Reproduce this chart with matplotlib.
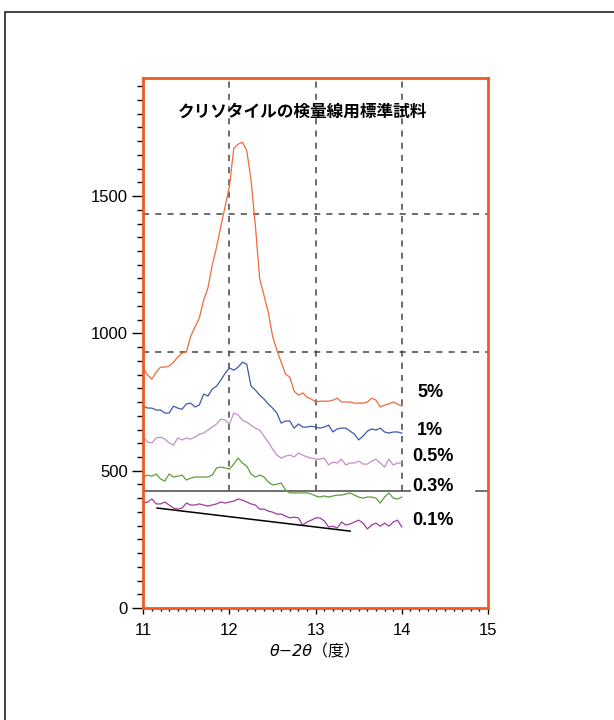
import numpy as np
import matplotlib
matplotlib.use('Agg')
import matplotlib.pyplot as plt
from matplotlib.patches import Rectangle
from matplotlib.ticker import MultipleLocator

# ---- data (step 0.05 deg) ----
two_theta = np.round(np.arange(11.0, 14.0001, 0.05), 2)

std_5 = [874, 848, 834, 859, 877, 877, 881, 895, 914, 928,
         932, 990, 1023, 1056, 1121, 1165, 1249, 1314, 1390, 1463,
         1536, 1674, 1689, 1696, 1667, 1558, 1394, 1201, 1139, 1077,
         990, 939, 895, 852, 841, 790, 775, 783, 768, 761,
         750, 753, 753, 753, 757, 764, 750, 750, 750, 746,
         746, 746, 750, 764, 757, 732, 739, 743, 750, 743, 735]

std_1 = [735, 728, 728, 721, 721, 710, 710, 735, 728, 724,
         743, 746, 732, 739, 779, 772, 797, 808, 830, 855,
         874, 866, 877, 895, 888, 808, 794, 775, 761, 743,
         728, 710, 673, 681, 681, 655, 670, 659, 659, 662,
         659, 655, 659, 666, 641, 652, 655, 655, 644, 633,
         612, 626, 644, 652, 648, 655, 641, 637, 641, 641, 637]

std_05 = [622, 604, 601, 619, 622, 615, 601, 593, 619, 612,
          619, 615, 622, 633, 637, 648, 659, 670, 688, 684,
          670, 710, 703, 684, 677, 666, 655, 648, 626, 604,
          579, 557, 546, 553, 557, 550, 564, 557, 550, 546,
          542, 542, 546, 521, 531, 528, 542, 521, 528, 528,
          535, 524, 524, 535, 542, 528, 513, 542, 521, 528, 528]

std_03 = [477, 484, 480, 488, 470, 462, 488, 477, 480, 484,
          466, 473, 477, 477, 477, 477, 484, 510, 513, 510,
          506, 524, 546, 528, 517, 488, 477, 484, 477, 459,
          448, 451, 455, 430, 419, 419, 419, 419, 419, 415,
          408, 404, 408, 404, 408, 411, 411, 415, 419, 411,
          404, 400, 404, 404, 400, 382, 404, 419, 400, 397, 404]

std_01 = [382, 386, 397, 379, 379, 386, 375, 364, 360, 364,
          382, 375, 375, 379, 375, 371, 375, 379, 386, 382,
          386, 389, 397, 393, 386, 379, 375, 360, 360, 353,
          349, 342, 342, 335, 328, 331, 328, 302, 313, 320,
          328, 328, 317, 295, 298, 291, 313, 302, 306, 313,
          320, 309, 288, 302, 309, 298, 309, 298, 313, 320, 295]

series = [std_5, std_1, std_05, std_03, std_01]
labels = ['5%', '1%', '0.5%', '0.3%', '0.1%']
colors = ['#F26A3D', '#3A5BAA', '#C68DCA', '#5E9E3C', '#A03BA0']
label_x = [14.18, 14.17, 14.12, 14.12, 14.12]
label_y = [786, 648, 553, 444, 320]

title = 'クリソタイルの検量線用標準試料'
xlabel = 'θ−2θ（度）'

# ---- figure ----
plt.rcParams['font.family'] = ['Liberation Sans', 'Noto Sans CJK JP']
fig = plt.figure(figsize=(6.14, 7.2), dpi=100)
ax = fig.add_axes([143.3 / 614, 112 / 720, (488 - 143.3) / 614, (608 - 78) / 720])

# outer frame of the page
fig.add_artist(Rectangle((5 / 614, -0.1), 1.2, 0.1 + (720 - 12) / 720,
                         transform=fig.transFigure, fill=False,
                         edgecolor='#333333', linewidth=1.3, clip_on=False))

# guide lines
dash = dict(color='#444444', linewidth=1.1, linestyle=(0, (4, 4)))
for yv in [1434, 932]:
    ax.plot([11, 15], [yv, yv], **dash, zorder=1)
for xv in [12, 13, 14]:
    ax.plot([xv, xv], [427, 1930], **dash, zorder=1)
ax.plot([11, 14.1], [427, 427], color='#555555', linewidth=1.2, zorder=1)
ax.plot([14.86, 15], [427, 427], color='#555555', linewidth=1.2, zorder=1)
ax.plot([11.16, 13.4], [364, 280], color='black', linewidth=1.1, zorder=3)

for ys, c in zip(series, colors):
    ax.plot(two_theta, ys, color=c, linewidth=0.9, zorder=2)

for lab, lx, ly in zip(labels, label_x, label_y):
    ax.text(lx, ly, lab, fontsize=13, fontweight='bold', ha='left', va='center')

ax.text(0.10, 0.936, title, transform=ax.transAxes, fontsize=12,
        fontweight='bold', family=['Noto Sans CJK JP'], ha='left', va='center')

ax.set_xlim(11, 15)
ax.set_ylim(0, 1930)
ax.xaxis.set_major_locator(MultipleLocator(1))
ax.xaxis.set_minor_locator(MultipleLocator(0.1))
ax.yaxis.set_major_locator(MultipleLocator(500))
ax.yaxis.set_minor_locator(MultipleLocator(50))
ax.tick_params(axis='y', which='major', length=8, width=1, pad=3, labelsize=12)
ax.tick_params(axis='y', which='minor', length=4.5, width=1)
ax.tick_params(axis='x', which='major', length=4, width=1, pad=7, labelsize=12)
ax.tick_params(axis='x', which='minor', length=2.5, width=1)

for s in ax.spines.values():
    s.set_color('#EE5A24')
    s.set_linewidth(2)

ax.set_xlabel(xlabel, fontsize=11.5, family=['DejaVu Sans', 'Noto Sans CJK JP'],
              style='italic', labelpad=4)

fig.savefig('out.png', dpi=100)
